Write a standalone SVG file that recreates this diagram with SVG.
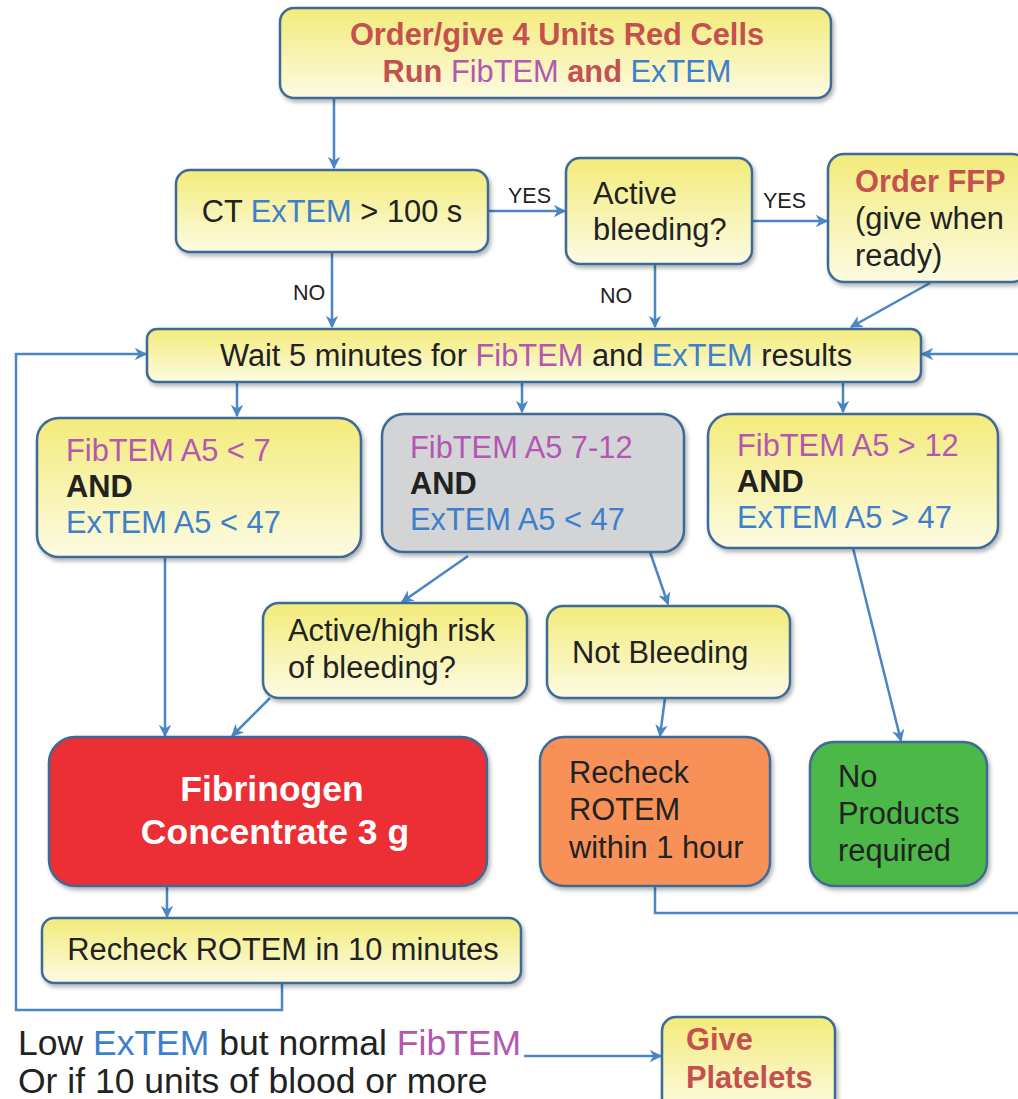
<svg xmlns="http://www.w3.org/2000/svg" width="1018" height="1099" viewBox="0 0 1018 1099">
<defs>
<linearGradient id="yel" x1="0" y1="0" x2="0" y2="1">
<stop offset="0" stop-color="#f3eb7a"/>
<stop offset="1" stop-color="#fcfbe2"/>
</linearGradient>
<filter id="sh" x="-10%" y="-10%" width="125%" height="130%">
<feDropShadow dx="2" dy="3" stdDeviation="2" flood-color="#000" flood-opacity="0.3"/>
</filter>
<marker id="ah" viewBox="0 0 10 10" refX="9" refY="5" markerWidth="5" markerHeight="5" orient="auto" markerUnits="strokeWidth">
<path d="M0,0 L10,5 L0,10 L3,5 z" fill="#4a86c5"/>
</marker>
</defs>
<style>
.box{stroke:#3d6a96;stroke-width:2.5;filter:url(#sh)}
.y{fill:url(#yel)}
.t{font-family:"Liberation Sans",Arial,sans-serif;font-size:30.8px;fill:#222}
.big{font-size:35.5px}
.b{font-weight:bold}
.red{fill:#c4504f}
.pur{fill:#b457b2}
.blu{fill:#3e7fcc}
.lbl{font-family:"Liberation Sans",Arial,sans-serif;font-size:21.5px;fill:#222}
.c{fill:none;stroke:#4a86c5;stroke-width:2.5}
.a{marker-end:url(#ah)}
</style>
<g id="connectors">
<line class="c a" x1="334" y1="98" x2="334" y2="168"/>
<line class="c a" x1="488" y1="211" x2="565" y2="211"/>
<line class="c a" x1="752" y1="221" x2="827" y2="221"/>
<line class="c a" x1="332" y1="252" x2="332" y2="327"/>
<line class="c a" x1="655" y1="264" x2="655" y2="327"/>
<line class="c a" x1="930" y1="283" x2="851" y2="327"/>
<polyline class="c a" points="282,983 282,1010 16,1010 16,354 146,354"/>
<polyline class="c" points="655,886 655,913 1018,913"/>
<line class="c a" x1="1018" y1="354" x2="922" y2="354"/>
<line class="c a" x1="237" y1="382" x2="237" y2="416"/>
<line class="c a" x1="522" y1="382" x2="522" y2="412"/>
<line class="c a" x1="843" y1="382" x2="843" y2="412"/>
<line class="c a" x1="165" y1="557" x2="165" y2="736"/>
<line class="c a" x1="468" y1="556" x2="402" y2="602"/>
<line class="c a" x1="650" y1="552" x2="668" y2="604"/>
<line class="c a" x1="270" y1="698" x2="232" y2="736"/>
<line class="c a" x1="665" y1="698" x2="660" y2="736"/>
<line class="c a" x1="853" y1="548" x2="901" y2="741"/>
<line class="c a" x1="167" y1="886" x2="167" y2="917"/>
<line class="c a" x1="524" y1="1056" x2="661" y2="1056"/>
</g>
<g id="start">
<rect class="box y" x="280" y="8" width="551" height="90" rx="14"/>
<text class="t b red" x="557" y="45" text-anchor="middle">Order/give 4 Units Red Cells</text>
<text class="t" x="557" y="82" text-anchor="middle"><tspan class="b red">Run </tspan><tspan class="pur">FibTEM</tspan><tspan class="b red"> and </tspan><tspan class="blu">ExTEM</tspan></text>
</g>
<g id="ct">
<rect class="box y" x="176" y="170" width="312" height="82" rx="14"/>
<text class="t" x="332" y="222" text-anchor="middle">CT <tspan class="blu">ExTEM</tspan> &gt; 100 s</text>
</g>
<g id="active">
<rect class="box y" x="566" y="158" width="186" height="106" rx="14"/>
<text class="t" x="593" y="204">Active</text>
<text class="t" x="593" y="240">bleeding?</text>
</g>
<g id="ffp">
<rect class="box y" x="828" y="154" width="200" height="128" rx="16"/>
<text class="t b red" x="855" y="192">Order FFP</text>
<text class="t" x="855" y="229">(give when</text>
<text class="t" x="855" y="266">ready)</text>
</g>
<g id="labels">
<text class="lbl" x="508" y="203">YES</text>
<text class="lbl" x="763" y="208">YES</text>
<text class="lbl" x="293" y="300">NO</text>
<text class="lbl" x="600" y="303">NO</text>
</g>
<g id="wait">
<rect class="box y" x="147" y="329" width="774" height="53" rx="10"/>
<text class="t" x="536" y="366" text-anchor="middle">Wait 5 minutes for <tspan class="pur">FibTEM</tspan> and <tspan class="blu">ExTEM</tspan> results</text>
</g>
<g id="low">
<rect class="box y" x="37" y="418" width="324" height="139" rx="22"/>
<text class="t pur" x="66" y="461">FibTEM A5 &lt; 7</text>
<text class="t b" x="66" y="497">AND</text>
<text class="t blu" x="66" y="533">ExTEM A5 &lt; 47</text>
</g>
<g id="mid">
<rect class="box" x="382" y="414" width="302" height="138" rx="22" fill="#d3d4d6"/>
<text class="t pur" x="410" y="458">FibTEM A5 7-12</text>
<text class="t b" x="410" y="494">AND</text>
<text class="t blu" x="410" y="530">ExTEM A5 &lt; 47</text>
</g>
<g id="high">
<rect class="box y" x="708" y="414" width="290" height="134" rx="22"/>
<text class="t pur" x="737" y="456">FibTEM A5 &gt; 12</text>
<text class="t b" x="737" y="492">AND</text>
<text class="t blu" x="737" y="528">ExTEM A5 &gt; 47</text>
</g>
<g id="risk">
<rect class="box y" x="263" y="603" width="264" height="95" rx="16"/>
<text class="t" x="288" y="641">Active/high risk</text>
<text class="t" x="288" y="678">of bleeding?</text>
</g>
<g id="notbleeding">
<rect class="box y" x="547" y="606" width="243" height="92" rx="16"/>
<text class="t" x="572" y="663">Not Bleeding</text>
</g>
<g id="fibrinogen">
<rect class="box" x="49" y="737" width="438" height="149" rx="26" fill="#ec2d35"/>
<text class="t big b" x="272" y="801" text-anchor="middle" style="fill:#fff">Fibrinogen</text>
<text class="t big b" x="275" y="844" text-anchor="middle" style="fill:#fff">Concentrate 3 g</text>
</g>
<g id="recheck1h">
<rect class="box" x="540" y="737" width="230" height="149" rx="24" fill="#f79159"/>
<text class="t" x="569" y="783">Recheck</text>
<text class="t" x="569" y="820">ROTEM</text>
<text class="t" x="569" y="858">within 1 hour</text>
</g>
<g id="noproducts">
<rect class="box" x="810" y="742" width="177" height="144" rx="24" fill="#4cb847"/>
<text class="t" x="838" y="787">No</text>
<text class="t" x="838" y="824">Products</text>
<text class="t" x="838" y="861">required</text>
</g>
<g id="recheck10">
<rect class="box y" x="42" y="918" width="479" height="65" rx="12"/>
<text class="t" x="283" y="960" text-anchor="middle">Recheck ROTEM in 10 minutes</text>
</g>
<g id="note">
<text class="t big" x="18" y="1055">Low <tspan class="blu">ExTEM</tspan> but normal <tspan class="pur">FibTEM</tspan></text>
<text class="t big" x="18" y="1093">Or if 10 units of blood or more</text>
</g>
<g id="platelets">
<rect class="box y" x="662" y="1017" width="173" height="95" rx="14"/>
<text class="t b red" x="686" y="1050">Give</text>
<text class="t b red" x="686" y="1088">Platelets</text>
</g>
</svg>
